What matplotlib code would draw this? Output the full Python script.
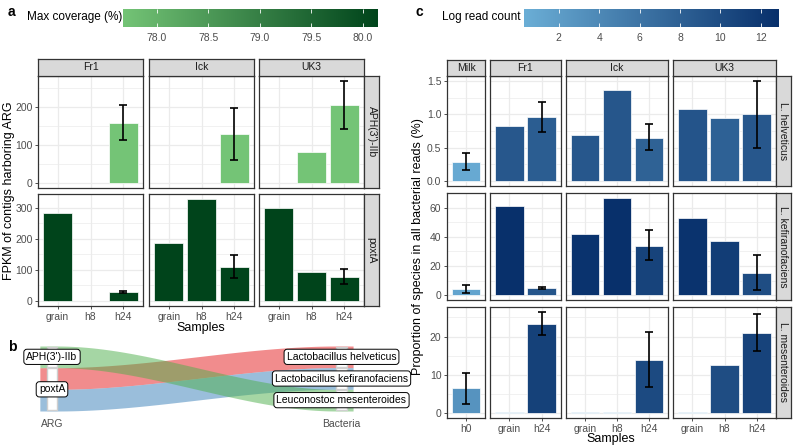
import numpy as np
import matplotlib
matplotlib.use("Agg")
import matplotlib.pyplot as plt
from matplotlib.colors import LinearSegmentedColormap, Normalize
from matplotlib.ticker import MultipleLocator
from matplotlib.patches import Rectangle

plt.rcParams['font.family'] = ['Liberation Sans', 'DejaVu Sans']

nan = np.nan

# ---- panel a data (rows = Fr1, Ick, UK3 ; cols = grain, h8, h24)
cheeses_a = ["Fr1", "Ick", "UK3"]
samples_a = ["grain", "h8", "h24"]
genes = ["APH(3')-IIb", "poxtA"]
coverage = [77.67, 80.15]

aph_fpkm = [[nan, nan, 158], [nan, nan, 128], [nan, 82, 204]]
aph_lo = [[nan, nan, 112], [nan, nan, 60], [nan, nan, 141]]
aph_hi = [[nan, nan, 205], [nan, nan, 198], [nan, nan, 268]]
poxta_fpkm = [[282, nan, 30], [188, 328, 110], [298, 94, 77]]
poxta_lo = [[nan, nan, 27], [nan, nan, 73], [nan, nan, 54]]
poxta_hi = [[nan, nan, 33], [nan, nan, 147], [nan, nan, 104]]

# ---- panel b data
arg_nodes = ["APH(3')-IIb", "poxtA"]
bac_nodes = ["Lactobacillus helveticus", "Lactobacillus kefiranofaciens", "Leuconostoc mesenteroides"]
flow_src = ["poxtA", "poxtA", "APH(3')-IIb"]
flow_dst = ["Lactobacillus helveticus", "Lactobacillus kefiranofaciens", "Leuconostoc mesenteroides"]
flow_w = [1, 1, 1]
flow_col = ["#E41A1C", "#377EB8", "#4DAF4A"]

# ---- panel c data
groups_c = ["Milk", "Fr1", "Ick", "UK3"]
samples_c = [["h0"], ["grain", "h24"], ["grain", "h8", "h24"], ["grain", "h8", "h24"]]
species = ["L. helveticus", "L. kefiranofaciens", "L. mesenteroides"]

hel_prop = [[0.29], [0.83, 0.96], [0.69, 1.36, 0.65], [1.08, 0.94, 1.00]]
hel_lo = [[0.16], [nan, 0.73], [nan, nan, 0.46], [nan, nan, 0.50]]
hel_hi = [[0.42], [nan, 1.19], [nan, nan, 0.86], [nan, nan, 1.50]]
hel_log = [[0.8], [9.0, 8.4], [9.0, 9.1, 7.9], [9.3, 8.0, 9.0]]

kef_prop = [[4.2], [61.1, 4.9], [41.8, 66.7, 34.0], [53.1, 37.3, 15.3]]
kef_lo = [[1.3], [nan, 4.4], [nan, nan, 24.2], [nan, nan, 3.6]]
kef_hi = [[7.1], [nan, 5.3], [nan, nan, 44.4], [nan, nan, 27.3]]
kef_log = [[1.3], [12.9, 9.2], [12.6, 12.9, 11.0], [12.6, 11.6, 10.0]]

mes_prop = [[6.4], [0.15, 23.3], [0.15, 0.15, 13.9], [0.15, 12.5, 20.9]]
mes_lo = [[2.4], [nan, 20.3], [nan, nan, 6.7], [nan, nan, 16.2]]
mes_hi = [[10.5], [nan, 26.4], [nan, nan, 21.1], [nan, nan, 25.8]]
mes_log = [[3.0], [0.28, 11.2], [0.28, 0.28, 10.3], [0.28, 10.0, 11.0]]

W, H = 794, 446
fig = plt.figure(figsize=(W / 100, H / 100), dpi=100)

GRID = '#ebebeb'
DARK = '#333333'
TXT = '#4d4d4d'


def box(x0, y0, x1, y1):
    return fig.add_axes([x0 / W, 1 - y1 / H, (x1 - x0) / W, (y1 - y0) / H])


def strip(x0, y0, x1, y1, text, rot=0):
    s = box(x0, y0, x1, y1)
    s.set_facecolor('#d9d9d9')
    s.set_xticks([])
    s.set_yticks([])
    for sp in s.spines.values():
        sp.set_color(DARK)
        sp.set_linewidth(0.9)
    s.text(0.5, 0.5, text, ha='center', va='center', rotation=rot,
           fontsize=7.5, color='#1a1a1a', transform=s.transAxes)


def bars(ax, cats, vals, lo, hi, colors, ylim, step, fmt, show_x, show_y):
    x = np.arange(len(cats))
    v = np.array(vals, float)
    lo = np.array(lo, float)
    hi = np.array(hi, float)
    ax.set_xlim(-0.6, len(cats) - 0.4)
    ax.set_ylim(*ylim)
    ax.yaxis.set_major_locator(MultipleLocator(step))
    ax.yaxis.set_minor_locator(MultipleLocator(step / 2))
    ax.set_axisbelow(True)
    ax.grid(which='major', color=GRID, lw=0.9)
    ax.grid(which='minor', axis='y', color=GRID, lw=0.5)
    ok = ~np.isnan(v)
    ax.bar(x[ok], v[ok], width=0.9, color=[colors[i] for i in range(len(v)) if ok[i]],
           edgecolor='white', lw=0.5)
    e = ~np.isnan(lo)
    if e.any():
        ax.errorbar(x[e], v[e], yerr=[v[e] - lo[e], hi[e] - v[e]], fmt='none',
                    ecolor='black', elinewidth=1.2, capsize=2.6, capthick=1.2)
    ax.set_xticks(x, cats)
    ax.yaxis.set_major_formatter(lambda t, p: fmt % t)
    ax.tick_params(axis='both', which='major', labelsize=7.5, labelcolor=TXT, color=DARK,
                   length=2.5, width=0.6, pad=1.5)
    ax.tick_params(axis='y', which='minor', length=0)
    ax.tick_params(axis='x', bottom=show_x, labelbottom=show_x)
    ax.tick_params(axis='y', left=show_y, labelleft=show_y)
    for sp in ax.spines.values():
        sp.set_color(DARK)
        sp.set_linewidth(0.9)


def colorbar(x0, x1, cmap, norm, ticks, fmt, title, title_x):
    cax = box(x0, 9, x1, 27)
    g = np.linspace(norm.vmin, norm.vmax, 256)
    cax.imshow(g[None, :], extent=[norm.vmin, norm.vmax, 0, 1], aspect='auto',
               cmap=cmap, norm=norm)
    cax.set_xlim(norm.vmin, norm.vmax)
    cax.set_yticks([])
    cax.set_xticks(ticks, [fmt % t for t in ticks])
    cax.tick_params(axis='x', direction='in', length=3, width=0.6, color='white',
                    top=True, bottom=True, labelsize=7.5, labelcolor=TXT, pad=4)
    for sp in cax.spines.values():
        sp.set_visible(False)
    fig.text(title_x / W, 1 - 17 / H, title, ha='right', va='center', fontsize=8.5)


def row_lim(vals, his):
    allv = np.concatenate([np.ravel(np.array(r, float)) for r in vals + his])
    m = np.nanmax(allv)
    return (-0.05 * m, 1.05 * m)


# ================= panel a =================
cmap_g = LinearSegmentedColormap.from_list('g', ['#74c476', '#00441b'])
norm_g = Normalize(min(coverage), max(coverage))
colorbar(123, 378, cmap_g, norm_g, [78.0, 78.5, 79.0, 79.5, 80.0], '%.1f',
         'Max coverage (%)', 122)

cols_a = [(38, 143), (149, 254), (259, 364)]
rows_a = [(76, 188), (194, 306)]
data_a = [(aph_fpkm, aph_lo, aph_hi), (poxta_fpkm, poxta_lo, poxta_hi)]
for r, (vals, los, his) in enumerate(data_a):
    col = cmap_g(norm_g(coverage[r]))
    ylim = row_lim(vals, his)
    for c, (x0, x1) in enumerate(cols_a):
        ax = box(x0, rows_a[r][0], x1, rows_a[r][1])
        bars(ax, samples_a, vals[c], los[c], his[c], [col] * 3, ylim, 100, '%d',
             r == 1, c == 0)
    strip(364, rows_a[r][0], 379, rows_a[r][1], genes[r], rot=-90)
for c, (x0, x1) in enumerate(cols_a):
    strip(x0, 59, x1, 76, cheeses_a[c])

fig.text(201 / W, 1 - 328 / H, 'Samples', ha='center', va='center', fontsize=9)
fig.text(9 / W, 1 - 191 / H, 'FPKM of contigs harboring ARG', ha='center', va='center',
         rotation=90, fontsize=9)

# ================= panel b =================
sx = box(20, 335, 400, 416)
px_unit = 289.5
py_unit = 65 / sum(flow_w)
sx.set_xlim((20 - 52) / px_unit, (400 - 52) / px_unit)
sx.set_ylim((411 - 416) / py_unit, sum(flow_w) + (346 - 335) / py_unit)
sx.axis('off')

total = sum(flow_w)


def stack(nodes, key, order):
    pos, span = {}, {}
    top = total
    for n in nodes:
        idx = sorted([i for i in range(len(flow_w)) if key[i] == n], key=order)
        start = top
        for i in idx:
            pos[i] = (top - flow_w[i], top)
            top -= flow_w[i]
        span[n] = (top, start)
    return pos, span


lpos, lspan = stack(arg_nodes, flow_src, lambda i: bac_nodes.index(flow_dst[i]))
rpos, rspan = stack(bac_nodes, flow_dst, lambda i: arg_nodes.index(flow_src[i]))

nw = 0.035
t = np.linspace(0, 1, 120)
sm = t * t * (3 - 2 * t)
xx = np.concatenate([[-0.042], nw / 2 + (1 - nw) * t, [1.04]])
for i in range(len(flow_w)):
    l0, l1 = lpos[i]
    r0, r1 = rpos[i]
    bot = np.concatenate([[l0], l0 + (r0 - l0) * sm, [r0]])
    top = np.concatenate([[l1], l1 + (r1 - l1) * sm, [r1]])
    sx.fill_between(xx, bot, top, color=flow_col[i], alpha=0.5, lw=0)

gap = 0.07
for xc, spans in [(0, lspan), (1, rspan)]:
    for n, (a, b) in spans.items():
        sx.add_patch(Rectangle((xc - nw / 2, a + gap / 2), nw, b - a - gap,
                               facecolor='white', edgecolor='#cfcfcf', lw=1.0, zorder=3))
        sx.text(xc, (a + b) / 2, n, ha='center', va='center', fontsize=7.5, zorder=4,
                bbox=dict(boxstyle='round,pad=0.25,rounding_size=0.3', fc='white',
                          ec='black', lw=0.7))
sx.text(0, -0.6, 'ARG', ha='center', va='center', fontsize=7.5, color=TXT)
sx.text(1, -0.6, 'Bacteria', ha='center', va='center', fontsize=7.5, color=TXT)

# ================= panel c =================
all_log = np.concatenate([np.ravel(np.concatenate(l)) for l in (hel_log, kef_log, mes_log)])
cmap_b = LinearSegmentedColormap.from_list('b', ['#6baed6', '#08306b'])
norm_b = Normalize(all_log.min(), all_log.max())
colorbar(524, 779, cmap_b, norm_b, [2, 4, 6, 8, 10, 12], '%d', 'Log read count', 521)

cols_c = [(447, 485), (490, 561), (566, 668), (673, 776)]
rows_c = [(76, 186), (193, 300), (307, 418)]
data_c = [(hel_prop, hel_lo, hel_hi, hel_log, 0.5, '%.1f'),
          (kef_prop, kef_lo, kef_hi, kef_log, 20, '%d'),
          (mes_prop, mes_lo, mes_hi, mes_log, 10, '%d')]
for r, (vals, los, his, logs, step, fmt) in enumerate(data_c):
    ylim = row_lim(vals, his)
    for c, (x0, x1) in enumerate(cols_c):
        ax = box(x0, rows_c[r][0], x1, rows_c[r][1])
        colors = [cmap_b(norm_b(v)) for v in logs[c]]
        bars(ax, samples_c[c], vals[c], los[c], his[c], colors, ylim, step, fmt,
             r == 2, c == 0)
    strip(776, rows_c[r][0], 791, rows_c[r][1], species[r], rot=-90)
for c, (x0, x1) in enumerate(cols_c):
    strip(x0, 60, x1, 76, groups_c[c])

fig.text(611 / W, 1 - 445 / H, 'Samples', ha='center', va='bottom', fontsize=9)
fig.text(418 / W, 1 - 247 / H, 'Proportion of species in all bacterial reads (%)',
         ha='center', va='center', rotation=90, fontsize=9)

# panel letters
fig.text(8 / W, 1 - 12 / H, 'a', fontweight='bold', fontsize=10, va='center')
fig.text(8 / W, 1 - 347 / H, 'b', fontweight='bold', fontsize=10, va='center')
fig.text(416 / W, 1 - 12 / H, 'c', fontweight='bold', fontsize=10, va='center')

fig.savefig('out.png', dpi=100)
